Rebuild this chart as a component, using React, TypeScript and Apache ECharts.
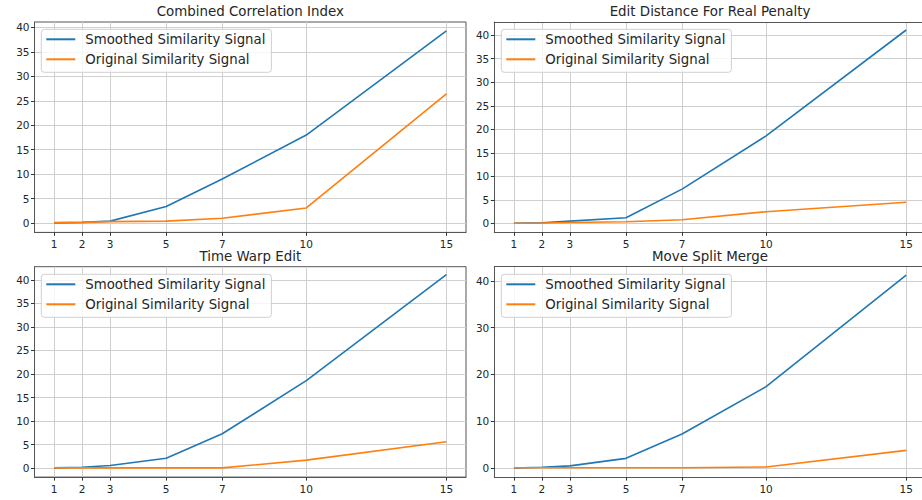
import React, { useEffect, useRef } from "react";
import * as echarts from "echarts";

const xValues = [1, 2, 3, 5, 7, 10, 15];
const xTicks = [1, 2, 3, 5, 7, 10, 15];

const titles = [
  "Combined Correlation Index",
  "Edit Distance For Real Penalty",
  "Time Warp Edit",
  "Move Split Merge",
];

const seriesNames = ["Smoothed Similarity Signal", "Original Similarity Signal"];

const ccSmoothed = [0.05, 0.15, 0.4, 3.4, 9.0, 18.0, 39.3];
const ccOriginal = [0.1, 0.15, 0.3, 0.4, 1.0, 3.1, 26.4];

const edrSmoothed = [0.05, 0.15, 0.5, 1.2, 7.3, 18.6, 41.1];
const edrOriginal = [0.05, 0.1, 0.2, 0.35, 0.8, 2.5, 4.5];

const twedSmoothed = [0.05, 0.2, 0.55, 2.1, 7.3, 18.6, 41.1];
const twedOriginal = [0.05, 0.05, 0.05, 0.05, 0.05, 1.7, 5.6];

const msmSmoothed = [0.05, 0.2, 0.5, 2.1, 7.3, 17.4, 41.2];
const msmOriginal = [0.1, 0.1, 0.1, 0.1, 0.1, 0.25, 3.8];

const yTicksA = [0, 5, 10, 15, 20, 25, 30, 35, 40];
const yTicksB = [0, 10, 20, 30, 40];

const panels = [
  { smoothed: ccSmoothed, original: ccOriginal, yTicks: yTicksA, yMin: -1.9, yMax: 41.1 },
  { smoothed: edrSmoothed, original: edrOriginal, yTicks: yTicksA, yMin: -1.9, yMax: 42.8 },
  { smoothed: twedSmoothed, original: twedOriginal, yTicks: yTicksA, yMin: -1.9, yMax: 42.8 },
  { smoothed: msmSmoothed, original: msmOriginal, yTicks: yTicksB, yMin: -1.9, yMax: 43.0 },
];

const FONT = "DejaVu Sans";
const TEXT = "#262626";
const COLORS = ["#1f77b4", "#ff7f0e"];

export default function App() {
  const ref = useRef<HTMLDivElement>(null);

  useEffect(() => {
    if (!ref.current) return;
    const chart = echarts.init(ref.current, undefined, { renderer: "svg" });

    const lefts = [34.5, 494.3, 34.5, 494.3];
    const tops = [22, 22, 266.7, 266.7];
    const W = 431.5;
    const H = 210.4;
    const X_MIN = 0.3;
    const X_MAX = 15.7;
    const pxPerUnit = W / (X_MAX - X_MIN);
    const isRight = (i: number) => i === 1 || i === 3;
    const widths = lefts.map((l, i) => (isRight(i) ? 922 - l : W));
    const xMaxes = lefts.map((l, i) => (isRight(i) ? X_MIN + (922 - l) / pxPerUnit : X_MAX));

    const grids = panels.map((_, i) => ({
      left: lefts[i],
      top: tops[i],
      width: widths[i],
      height: H,
      show: !isRight(i),
      borderColor: "#555",
      borderWidth: 1,
      backgroundColor: "transparent",
      containLabel: false,
    }));

    const xAxes: any[] = panels.map((_, i) => ({
      type: "value",
      gridIndex: i,
      min: X_MIN,
      max: xMaxes[i],
      axisLine: { show: true, onZero: false, lineStyle: { color: "#555", width: 1 } },
      axisTick: { show: true, length: 3.5, customValues: xTicks, lineStyle: { color: "#333" } },
      axisLabel: {
        customValues: xTicks,
        fontFamily: FONT,
        fontSize: 10.5,
        color: TEXT,
        margin: 6,
      },
      splitLine: { show: true, lineStyle: { color: "#cfcfcf", width: 1 } },
    }));
    // top spines for the right-hand panels (their right edge is cut off by the page)
    [1, 3].forEach((i) => {
      xAxes.push({
        type: "value",
        gridIndex: i,
        position: "top",
        min: X_MIN,
        max: xMaxes[i],
        axisLine: { show: true, onZero: false, lineStyle: { color: "#555", width: 1 } },
        axisTick: { show: false },
        axisLabel: { show: false },
        splitLine: { show: false },
      });
    });

    const yAxes = panels.map((p, i) => ({
      type: "value",
      gridIndex: i,
      min: p.yMin,
      max: p.yMax,
      axisLine: { show: true, onZero: false, lineStyle: { color: "#555", width: 1 } },
      axisTick: { show: true, length: 3.5, customValues: p.yTicks, lineStyle: { color: "#333" } },
      axisLabel: {
        customValues: p.yTicks,
        fontFamily: FONT,
        fontSize: 10.5,
        color: TEXT,
        margin: 5,
      },
      splitLine: { show: true, lineStyle: { color: "#cfcfcf", width: 1 } },
    }));

    const series: any[] = [];
    panels.forEach((p, i) => {
      [p.smoothed, p.original].forEach((vals, k) => {
        series.push({
          type: "line",
          name: seriesNames[k],
          xAxisIndex: i,
          yAxisIndex: i,
          data: xValues.map((x, j) => [x, vals[j]]),
          showSymbol: false,
          symbol: "none",
          lineStyle: { color: COLORS[k], width: 1.6 },
          itemStyle: { color: COLORS[k] },
          z: 3 + k,
        });
      });
    });

    const titleCenters = [250.3, 710, 250.3, 710];
    const titleTops = [3, 3, 248, 248];
    const title = titles.map((t, i) => ({
      text: t,
      left: titleCenters[i],
      top: titleTops[i],
      textAlign: "center",
      padding: 0,
      textStyle: {
        fontFamily: FONT,
        fontSize: 13.4,
        fontWeight: "normal",
        color: TEXT,
        lineHeight: 16,
      },
    }));

    const legLefts = [41.3, 501.3, 41.3, 501.3];
    const legTops = [29.3, 29.3, 274.3, 274.3];
    const legend = panels.map((_, i) => ({
      left: legLefts[i],
      top: legTops[i],
      orient: "vertical",
      data: seriesNames,
      icon: "rect",
      itemWidth: 29,
      itemHeight: 2,
      itemGap: 6,
      padding: [3, 6, 6, 5],
      backgroundColor: "rgba(255,255,255,0.8)",
      borderColor: "#d0d0d0",
      borderWidth: 1,
      borderRadius: 3,
      selectedMode: false,
      textStyle: {
        fontFamily: FONT,
        fontSize: 13.3,
        color: TEXT,
        lineHeight: 14,
        padding: [0, 0, 0, 5],
      },
      z: 10,
    }));

    chart.setOption({
      animation: false,
      backgroundColor: "#ffffff",
      title,
      legend,
      grid: grids,
      xAxis: xAxes,
      yAxis: yAxes,
      series,
    });

    return () => chart.dispose();
  }, []);

  return (
    <div
      ref={ref}
      style={{ position: "fixed", left: 0, top: 0, width: 922, height: 500 }}
    />
  );
}
